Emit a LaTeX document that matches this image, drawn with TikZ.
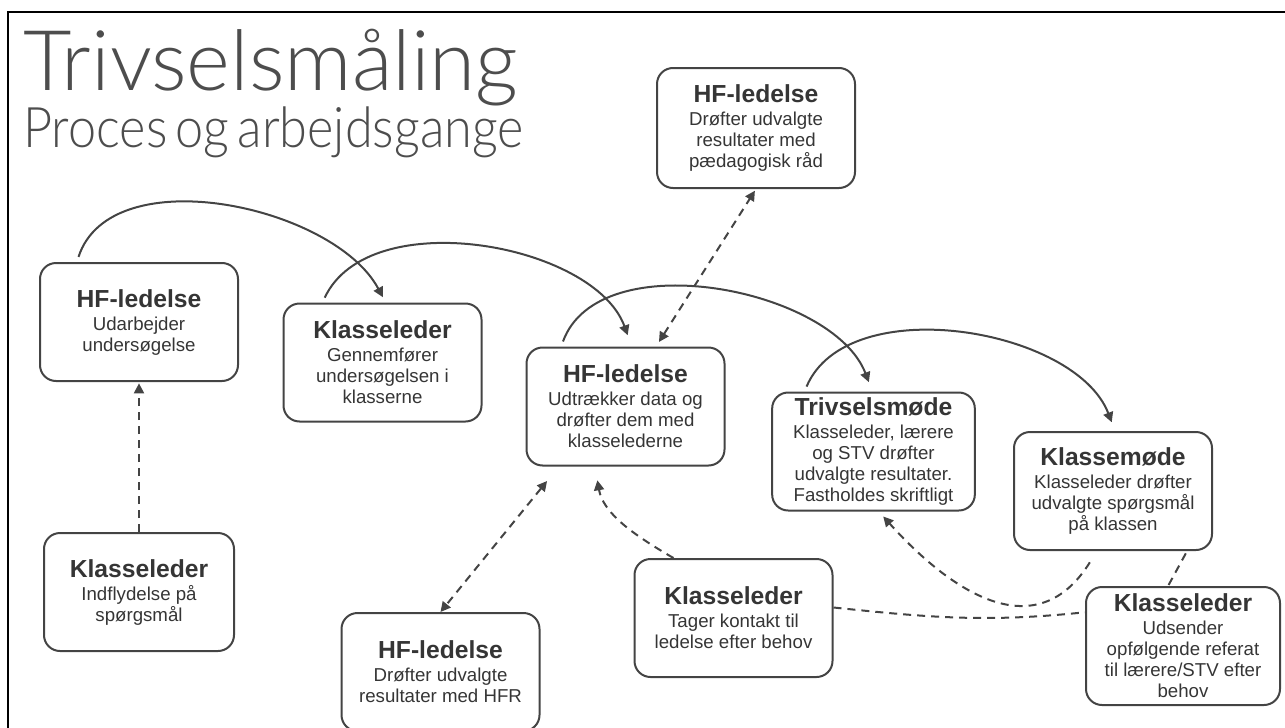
\documentclass[tikz,border=0pt]{standalone}
\usepackage{fontspec}
\setmainfont{Liberation Sans}
\newfontfamily\headfont{Lato Light}
\newfontfamily\subheadfont[FakeStretch=0.9,WordSpace=0.6]{Lato Light}
\usepackage{tikz}
\usetikzlibrary{arrows.meta}

\definecolor{ink}{HTML}{353535}
\definecolor{edge}{HTML}{444444}
\definecolor{headgray}{HTML}{4D4D4D}

\tikzset{
  box/.style={draw=edge, line width=1.5pt, rounded corners=12pt, text=ink, align=center,
    minimum width=148.5pt, minimum height=88.5pt, inner sep=2pt,
    font=\fontsize{14}{15.75}\selectfont},
  flow/.style={draw=edge, line width=1.5pt, -{Triangle[length=7.5pt,width=7.5pt]},
    shorten <=4pt, shorten >=4.5pt},
  dflow/.style={flow, dash pattern=on 6pt off 4.5pt},
  dboth/.style={dflow, {Triangle[length=7.5pt,width=7.5pt]}-{Triangle[length=7.5pt,width=7.5pt]}},
  dline/.style={draw=edge, line width=1.5pt, dash pattern=on 6pt off 4.5pt},
}
\newcommand{\boxhead}[1]{{\fontsize{18.5}{20}\selectfont\bfseries #1}\\[1.5pt]}

\begin{document}
\begin{tikzpicture}[x=0.75pt,y=0.75pt]
  \useasboundingbox (0,0) rectangle (1285,-728);
  \draw[line width=1.5pt] (8,-12) rectangle (1300,-745);

  % title
  \node[anchor=base west, inner sep=0, text=headgray, font=\headfont\fontsize{62.8}{63}\selectfont]
    (title) at (23,-90) {Trivselsmåling};
  \node[anchor=base west, inner sep=0, text=headgray, font=\subheadfont\fontsize{42}{42}\selectfont]
    (subtitle) at (23,-147) {Proces og arbejdsgange};

  % boxes
  \node[box] (hf1) at (139,-322) {\boxhead{HF-ledelse}Udarbejder\\undersøgelse};
  \node[box, minimum width=142.5pt] (kl1) at (139,-592) {\boxhead{Klasseleder}Indflydelse på\\spørgsmål};
  \node[box] (kl2) at (382.5,-362.5) {\boxhead{Klasseleder}Gennemfører\\undersøgelsen i\\klasserne};
  \node[box] (hf2) at (625.5,-406.5) {\boxhead{HF-ledelse}Udtrækker data og\\drøfter dem med\\klasselederne};
  \node[box, minimum height=90pt] (hf3) at (756,-128) {\boxhead{HF-ledelse}Drøfter udvalgte\\resultater med\\pædagogisk råd};
  \node[box, minimum width=152pt] (triv) at (873.5,-451.5) {\boxhead{Trivselsmøde}Klasseleder, lærere\\og STV drøfter\\udvalgte resultater.\\Fastholdes skriftligt};
  \node[box] (klm) at (1113,-491) {\boxhead{Klassemøde}Klasseleder drøfter\\udvalgte spørgsmål\\på klassen};
  \node[box] (hf4) at (440.5,-672) {\boxhead{HF-ledelse}Drøfter udvalgte\\resultater med HFR};
  \node[box] (kl3) at (733.5,-618) {\boxhead{Klasseleder}Tager kontakt til\\ledelse efter behov};
  \node[box, minimum width=145.5pt] (kl4) at (1183,-646) {\boxhead{Klasseleder}Udsender\\opfølgende referat\\til lærere/STV efter\\behov};

  % main flow
  \draw[flow] (hf1.136) to[out=72,in=118,looseness=0.9] (kl2.87);
  \draw[flow, shorten >=9pt] (kl2.135) to[out=65,in=110,looseness=0.9] (hf2.84);
  \draw[flow, shorten >=7.5pt] (hf2.137) to[out=70,in=111,looseness=0.9] (triv.91);
  \draw[flow, shorten >=7pt] (triv.139) to[out=67,in=111,looseness=0.9] (klm.88);

  % side links
  \draw[dflow, shorten <=0pt, shorten >=1pt] (kl1.north) -- (hf1.south);
  \draw[dboth, shorten <=4pt, shorten >=1.5pt] (hf2.63) -- (hf3.270);
  \draw[dboth, shorten <=14pt, shorten >=0pt] (hf2.222) -- (hf4.90);
  \draw[dflow, shorten <=0pt, shorten >=10.5pt] (kl3.135) to[out=150,in=-80] (hf2.243);
  \draw[dflow, shorten <=10pt, shorten >=5pt] (klm.255) to[out=238,in=-48,looseness=1.3] (triv.275);
  \draw[dline] (kl3.6) to[out=-6,in=186] (kl4.161);
  \draw[dline, shorten <=2pt] (klm.321) -- (kl4.104);
\end{tikzpicture}
\end{document}
